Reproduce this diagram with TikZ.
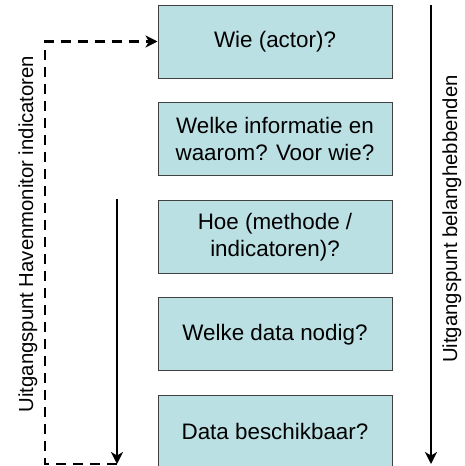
\documentclass[tikz,border=0pt]{standalone}
\usepackage{fontspec}
\setmainfont{Liberation Sans}
\usepackage{tikz}
\usetikzlibrary{arrows.meta, positioning}
\definecolor{step-blue}{RGB}{187,224,227}
\colorlet{step-border}{black!75}
\tikzset{%
  edge/.style={%
    -{Stealth[length=12pt, width=12pt, inset=3.5pt]},
    line width=2.6pt,
  },
  loopedge/.style={%
    edge,
    dash pattern=on 10pt off 7pt,
  },
  question/.style={%
    rectangle,
    fill=step-blue,
    draw=step-border, line width=1pt,
    minimum width=234pt,
    minimum height=73pt,
    inner sep=0pt,
    align=center,
    font=\fontsize{22.4}{27}\selectfont,
  },
  sidelabel/.style={%
    rotate=90,
    anchor=base,
    inner sep=0pt,
    font=\fontsize{20.3}{24}\selectfont,
  },
}

\begin{document}
\begin{tikzpicture}[x=1pt, y=1pt, node distance=23.6pt]
  \useasboundingbox (0,0) rectangle (465,-466);

  \coordinate (top_box) at (275, -41.5);

  \node [question] at (top_box) (who) {Wie (actor)?};
  \node [question, below=of who] (what) {Welke informatie en\\waarom? Voor wie?};
  \node [question, below=of what] (how) {Hoe (methode /\\indicatoren)?};
  \node [question, below=of how] (data_need) {Welke data nodig?};
  \node [question, below=of data_need] (data_avail) {Data beschikbaar?};

  \coordinate (stake_start) at (431, -5);
  \coordinate (stake_end) at (431, -464);
  \coordinate (monitor_start) at (117, -199);
  \coordinate (monitor_end) at (117, -464);
  \coordinate (monitor_corner) at (45, -464);

  \node [sidelabel] at (457, -219) (stake_label) {Uitgangspunt belanghebbenden};
  \node [sidelabel] at (33, -234) (monitor_label) {Uitgangspunt Havenmonitor indicatoren};

  \draw[edge] (stake_start) -- (stake_end);
  \draw[edge] (monitor_start) -- (monitor_end);
  \draw[loopedge] (monitor_end) -- (monitor_corner) |- (who.west);
\end{tikzpicture}
\end{document}
